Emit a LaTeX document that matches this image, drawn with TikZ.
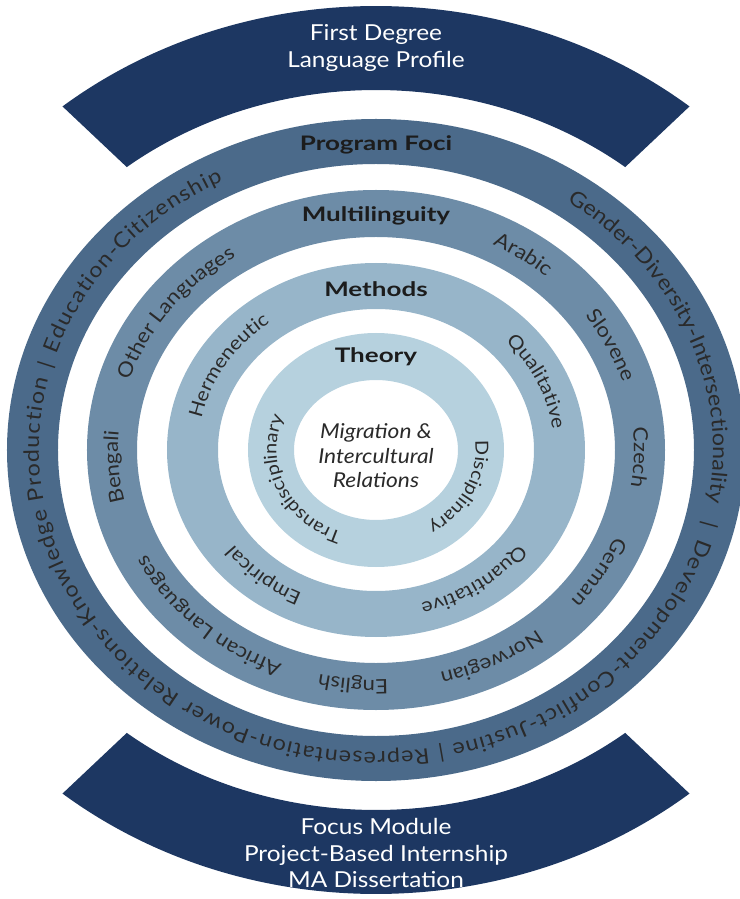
\documentclass[tikz,border=0pt]{standalone}
\usepackage{fontspec}
\setmainfont{Lato}[FakeStretch=1.11]
\newfontfamily\labfont{Lato}[FakeStretch=1.3]
\usetikzlibrary{decorations.text}
\definecolor{navy}{HTML}{1D3762}
\definecolor{ringA}{HTML}{4B6A8A}
\definecolor{ringB}{HTML}{6D8CA7}
\definecolor{ringC}{HTML}{97B5C9}
\definecolor{ringD}{HTML}{B6D1DE}
\definecolor{txt}{HTML}{2A2A2A}
\definecolor{labtxt}{HTML}{1C1C1C}
% rx, ry, centre angle, half span, font size, text
\newcommand\ringtext[6]{%
  \path[decorate,decoration={text along path,text align=center,text color=txt,
      text={|\fontsize{#5}{#5}\selectfont|#6}}]
    (#3+#4:#1 and #2) arc[start angle=#3+#4,end angle=#3-#4,x radius=#1,y radius=#2];}
% rx, ry, start angle, end angle, font size, text (fitted to the arc)
\newcommand\ringfit[6]{%
  \path[decorate,decoration={text along path,text align=fit to path,text color=txt,
      text={|\fontsize{#5}{#5}\selectfont|#6}}]
    (#3:#1 and #2) arc[start angle=#3,end angle=#4,x radius=#1,y radius=#2];}
\tikzset{
  ringlabel/.style={text=labtxt,font=\labfont\bfseries\fontsize{20}{24}\selectfont,inner sep=0pt},
  arctext/.style={text=white,align=center,inner sep=0pt},
  barmark/.style={text=txt,font=\fontsize{20}{20}\selectfont,inner sep=0pt}
}
\begin{document}
\begin{tikzpicture}[x=1pt,y=1pt]
\useasboundingbox (-376,-449) rectangle (363,450);
% navy sectors
\fill[navy] (129.3:495 and 444) arc[start angle=129.3,end angle=50.7,x radius=495,y radius=444]
  -- (51.8:403 and 360) arc[start angle=51.8,end angle=128.2,x radius=403,y radius=360] -- cycle;
\fill[navy] (-129.3:495 and 444) arc[start angle=-129.3,end angle=-50.7,x radius=495,y radius=444]
  -- (-51.8:403 and 360) arc[start angle=-51.8,end angle=-128.2,x radius=403,y radius=360] -- cycle;
% rings
\fill[ringA,even odd rule] (0,0) ellipse[x radius=369,y radius=331] (0,0) ellipse[x radius=318,y radius=286];
\fill[ringB,even odd rule] (0,0) ellipse[x radius=289,y radius=260] (0,0) ellipse[x radius=239,y radius=213];
\fill[ringC,even odd rule] (0,0) ellipse[x radius=209,y radius=187] (0,0) ellipse[x radius=158,y radius=141];
\fill[ringD,even odd rule] (0,0) ellipse[x radius=128,y radius=117] (0,0) ellipse[x radius=82,y radius=70];
% top / bottom texts
\node[arctext,font=\fontsize{22}{27}\selectfont] (first) at (0,402) {First Degree\\Language Profile};
\node[arctext,font=\fontsize{22}{26.5}\selectfont] (focus) at (0,-403) {Focus Module\\Project-Based Internship\\MA Dissertation};
% ring labels
\node[ringlabel] (foci) at (0,305) {Program Foci};
\node[ringlabel] (multi) at (0,234) {Multilinguity};
\node[ringlabel] (methods) at (0,161) {Methods};
\node[ringlabel] (theory) at (0,93) {Theory};
\node[text=txt,align=center,font=\itshape\fontsize{20.5}{24.5}\selectfont,inner sep=0pt] (core) at (0,-6) {Migration \&\\Intercultural\\Relations};
% outer ring text
\ringfit{337}{302}{55.5}{-10}{21}{Gender-Diversity-Intersectionality}
\ringfit{337}{302}{-17}{-77}{21}{Development-Conflict-Justine}
\ringfit{337}{302}{-81}{-193.5}{21}{Representation-Power Relations-Knowledge Production}
\ringfit{337}{302}{161.5}{117}{21}{Education-Citizenship}
\node[barmark,rotate=-105.5] (bar1) at (-14:343 and 308) {|};
\node[barmark,rotate=-170.1] (bar2) at (-79:343 and 308) {|};
\node[barmark,rotate=72.3] (bar3) at (164:343 and 308) {|};
% multilinguity ring
\ringtext{258}{230}{55}{35}{20}{Arabic}
\ringtext{258}{230}{25.5}{35}{20}{Slovene}
\ringtext{258}{230}{-1.7}{35}{20}{Czech}
\ringtext{258}{230}{-30.5}{35}{20}{German}
\ringtext{258}{230}{-62.8}{35}{20}{Norwegian}
\ringtext{258}{230}{-95.2}{35}{20}{English}
\ringtext{258}{230}{-132.8}{35}{20}{African Languages}
\ringtext{258}{230}{-176}{35}{20}{Bengali}
\ringtext{258}{230}{143.3}{35}{20}{Other Languages}
% methods ring
\ringtext{178}{158}{24}{50}{19}{Qualitative}
\ringtext{178}{158}{-54.6}{50}{19}{Quantitative}
\ringtext{178}{158}{-130.5}{50}{19}{Empirical}
\ringtext{178}{158}{149}{50}{19}{Hermeneutic}
% theory ring
\ringtext{99.5}{88}{-24.5}{75}{18}{Disciplinary}
\ringtext{99.5}{88}{-157}{75}{18}{Transdisciplinary}
\end{tikzpicture}
\end{document}
